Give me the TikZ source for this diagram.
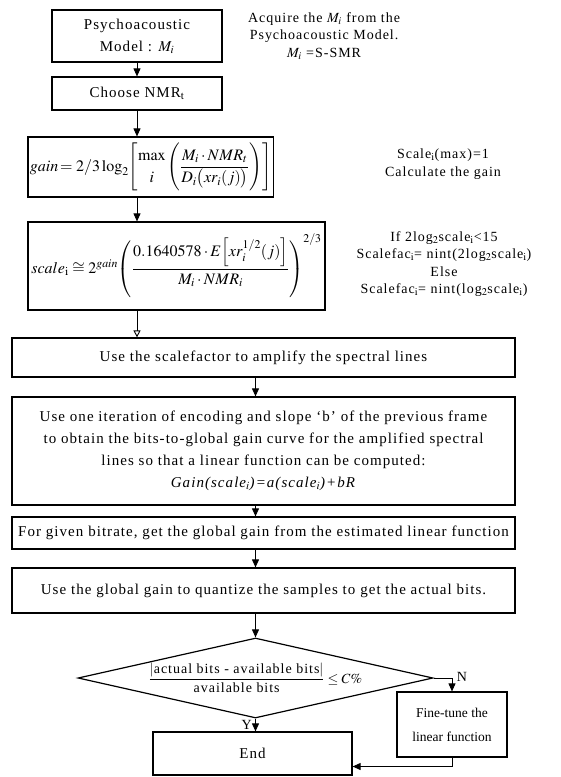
\documentclass[tikz,border=0pt]{standalone}
\usepackage{amsmath}
\usepackage{mathptmx}
\usepackage{fontspec}
\setmainfont{Liberation Serif}
\newfontfamily\spaced{Liberation Serif}[LetterSpace=7]
\usetikzlibrary{shapes.geometric, arrows.meta, positioning, calc}

\begin{document}
\begin{tikzpicture}[
        x=1pt, y=-1pt,
        box/.style={rectangle, draw, line width=1.2pt, align=center, inner sep=2pt, font=\spaced\fontsize{15}{22}\selectfont},
        formula/.style={box, font=\fontsize{16}{20}\selectfont},
        note/.style={align=center, font=\spaced\fontsize{14}{17.5}\selectfont},
        decision/.style={diamond, draw, line width=1.2pt, aspect=4.4, inner sep=0pt, minimum width=355pt, minimum height=80pt, font=\spaced\fontsize{14}{18}\selectfont},
        arrow/.style={-{Triangle[length=8pt, width=7pt]}, line width=0.9pt},
        lbl/.style={font=\fontsize{14}{16}\selectfont}
    ]
    \useasboundingbox (0,0) rectangle (560,777);

    % Psychoacoustic model and NMR
    \node[box, minimum width=170pt, minimum height=52pt] (psycho) at (137,36) {Psychoacoustic\\Model : $M_i$};
    \node[box, minimum width=170pt, minimum height=33pt, below=13.8pt of psycho] (nmr) {Choose NMR$_{\mathrm{t}}$};

    % Gain
    \node[formula, minimum width=245pt, minimum height=60pt, below=25.8pt of nmr.south west, anchor=north west, xshift=-24pt] (gain)
        {$gain\!=2/3\log_2\!\left[\begin{array}{@{}c@{}}\max\\[2pt] i\end{array}\left(\dfrac{M_i\cdot NMR_t}{D_i\bigl(xr_i(j)\bigr)}\right)\right]$};

    % Scale
    \node[formula, minimum width=297pt, minimum height=88pt, below=23.8pt of gain.south west, anchor=north west] (scale)
        {$scale_{\mathrm{i}}\cong 2^{gain}\!\left(\dfrac{0.1640578\cdot E\!\left[xr_i^{1/2}(j)\right]}{M_i\cdot NMR_i}\right)^{2/3}$};

    % Notes
    \node[note, right=22pt of psycho] (acq) {Acquire the $M_i$ from the\\Psychoacoustic Model.\\$M_i$ =S-SMR};
    \node[note] (unity) at (443,164) {Scale$_{\mathrm{i}}$(max)=1\\Calculate the gain};
    \node[note] (rule) at (444,264) {If 2log$_2$scale$_{\mathrm{i}}$<15\\Scalefac$_{\mathrm{i}}$= nint(2log$_2$scale$_{\mathrm{i}}$)\\Else\\Scalefac$_{\mathrm{i}}$= nint(log$_2$scale$_{\mathrm{i}}$)};

    % Wide steps
    \node[box, minimum width=503pt, minimum height=39pt, below=26.8pt of scale.south west, anchor=north west, xshift=-16pt] (amp)
        {Use the scalefactor to amplify the spectral lines};
    \node[box, minimum width=503pt, minimum height=108pt, below=18.8pt of amp] (fit)
        {Use one iteration of encoding and slope ‘b’ of the previous frame\\to obtain the bits-to-global gain curve for the amplified spectral\\lines so that a linear function can be computed:\\\textit{Gain(scale$_i$)=a(scale$_i$)+bR}};
    \node[box, minimum width=503pt, minimum height=32pt, below=10.8pt of fit] (bitrate)
        {For given bitrate, get the global gain from the estimated linear function};
    \node[box, minimum width=503pt, minimum height=45pt, below=17.8pt of bitrate] (quant)
        {Use the global gain to quantize the samples to get the actual bits.};

    % Decision
    \node[decision, below=23.8pt of quant, xshift=-8pt] (dec)
        {$\dfrac{|\mbox{actual bits - available bits}|}{\mbox{available bits}}\le C\%$};
    \node[box, minimum width=110pt, minimum height=65pt, font=\fontsize{13.5}{24}\selectfont] (fine) at (452,724.5) {Fine-tune the\\linear function};
    \node[box, minimum width=199pt, minimum height=43pt, below=12.8pt of dec, xshift=-3pt] (end) {End};

    % Arrows
    \draw[arrow] (psycho) -- (nmr);
    \draw[arrow] (nmr) -- (nmr |- gain.north);
    \draw[arrow] (gain.south -| nmr) -- (scale.north -| nmr);
    \draw[-{Triangle[open, length=7pt, width=7pt]}, line width=0.9pt] (scale.south -| nmr) -- (amp.north -| nmr);
    \draw[arrow] (amp.south -| dec) -- (fit.north -| dec);
    \draw[arrow] (fit.south -| dec) -- (bitrate.north -| dec);
    \draw[arrow] (bitrate.south -| dec) -- (quant.north -| dec);
    \draw[arrow] (quant.south -| dec) -- (dec);
    \draw[arrow] (dec) -- node[lbl, pos=0.5, left] {Y} (dec |- end.north);
    \draw[arrow] (dec.east) -| node[lbl, pos=0.5, right, xshift=1pt, yshift=1pt] {N} (fine.north);
    \coordinate (endin) at ($(end.east)+(0,13)$);
    \draw[arrow] (fine.south) |- (endin);

\end{tikzpicture}
\end{document}
